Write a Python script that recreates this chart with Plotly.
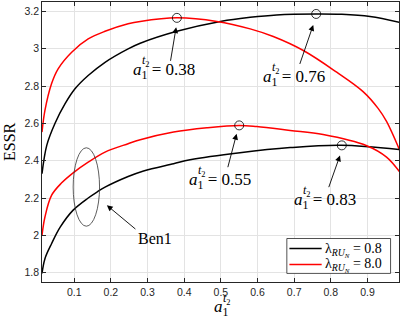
import plotly.graph_objects as go

# curves
x_black_hi = [0.012, 0.025, 0.047, 0.075, 0.102, 0.138, 0.184, 0.247, 0.28, 0.38, 0.502, 0.58, 0.652, 0.76, 0.83, 0.907, 0.988]
y_black_hi = [2.330, 2.482, 2.598, 2.705, 2.785, 2.856, 2.927, 2.999, 3.029, 3.093, 3.147, 3.168, 3.181, 3.186, 3.184, 3.172, 3.141]

x_red_hi = [0.012, 0.020, 0.038, 0.056, 0.093, 0.138, 0.184, 0.247, 0.28, 0.38, 0.489, 0.58, 0.643, 0.725, 0.816, 0.888, 0.929, 0.952, 0.988]
y_red_hi = [2.553, 2.669, 2.812, 2.892, 2.981, 3.052, 3.093, 3.133, 3.146, 3.165, 3.146, 3.106, 3.065, 2.990, 2.874, 2.770, 2.680, 2.610, 2.455]

x_black_lo = [0.012, 0.020, 0.038, 0.062, 0.097, 0.138, 0.162, 0.184, 0.247, 0.289, 0.371, 0.416, 0.552, 0.689, 0.828, 0.988]
y_black_lo = [1.796, 1.875, 1.955, 2.045, 2.135, 2.200, 2.232, 2.258, 2.315, 2.345, 2.384, 2.405, 2.443, 2.470, 2.482, 2.459]

x_red_lo = [0.012, 0.020, 0.038, 0.065, 0.097, 0.138, 0.184, 0.247, 0.28, 0.371, 0.462, 0.55, 0.598, 0.689, 0.779, 0.898, 0.952, 0.988]
y_red_lo = [2.000, 2.098, 2.214, 2.280, 2.335, 2.392, 2.446, 2.491, 2.512, 2.553, 2.576, 2.589, 2.583, 2.562, 2.540, 2.480, 2.419, 2.339]

legend_names = ['0.8', '8.0']

# optimum markers and their labels
peak_x = [0.38, 0.76, 0.55, 0.83]
peak_y = [3.165, 3.186, 2.589, 2.482]
peak_lbl = ['0.38', '0.76', '0.55', '0.83']
# arrow tails / heads and label left edge + middle
arrow_tail = [(0.362, 2.927), (0.714, 2.910), (0.518, 2.357), (0.793, 2.250)]
arrow_head = [(0.378, 3.115), (0.752, 3.127), (0.543, 2.544), (0.825, 2.428)]
label_pos = [(0.255, 2.880), (0.610, 2.843), (0.407, 2.292), (0.693, 2.182)]

SERIF = 'Liberation Serif'
AX = '#262626'

fig = go.Figure()
for xs, ys, col in [(x_black_hi, y_black_hi, 'black'), (x_red_hi, y_red_hi, 'red'),
                    (x_black_lo, y_black_lo, 'black'), (x_red_lo, y_red_lo, 'red')]:
    fig.add_trace(go.Scatter(x=xs, y=ys, mode='lines', showlegend=False,
                             line=dict(color=col, width=1.5, shape='spline')))
fig.add_trace(go.Scatter(x=peak_x, y=peak_y, mode='markers', showlegend=False,
                         marker=dict(symbol='circle-open', size=9, color='black', line=dict(width=0.8))))


def a1t2(x, y, tail, xref='x', yref='y', size=17, up=10):
    # a with subscript 1 and stacked superscript t2
    fig.add_annotation(x=x, y=y, xref=xref, yref=yref, xanchor='left', yanchor='middle', showarrow=False,
                       text='<i>a</i><sub>1</sub>' + tail, font=dict(family=SERIF, size=size, color='black'))
    fig.add_annotation(x=x, y=y, xref=xref, yref=yref, xanchor='left', yanchor='middle', showarrow=False,
                       xshift=9, yshift=up, text='<i>t</i><sub>2</sub>',
                       font=dict(family=SERIF, size=12, color='black'))


for (tx, ty), (hx, hy), (lx, ly), lbl in zip(arrow_tail, arrow_head, label_pos, peak_lbl):
    fig.add_annotation(x=hx, y=hy, ax=tx, ay=ty, axref='x', ayref='y', text='', showarrow=True,
                       arrowhead=2, arrowsize=1.3, arrowwidth=0.9, arrowcolor='black')
    a1t2(lx, ly, ' = ' + lbl)

# Ben1 ellipse and label
fig.add_shape(type='circle', x0=0.097, x1=0.169, y0=2.049, y1=2.469, line=dict(color='#333333', width=0.8))
fig.add_annotation(x=0.189, y=2.161, ax=0.271, ay=2.027, axref='x', ayref='y', text='', showarrow=True,
                   arrowhead=2, arrowsize=1.3, arrowwidth=0.9, arrowcolor='black')
fig.add_annotation(x=0.321, y=1.984, text='Ben1', showarrow=False, font=dict(family=SERIF, size=16, color='black'))

# legend drawn by hand (box, line samples, labels)
fig.add_shape(type='rect', x0=0.680, x1=0.963, y0=1.796, y1=1.983, fillcolor='white',
              line=dict(color=AX, width=0.8), layer='above')
for yy, col, nm in [(1.929, 'black', legend_names[0]), (1.844, 'red', legend_names[1])]:
    fig.add_shape(type='line', x0=0.687, x1=0.775, y0=yy, y1=yy, line=dict(color=col, width=1.5), layer='above')
    fig.add_annotation(x=0.779, y=yy, xanchor='left', yanchor='middle', showarrow=False, yshift=-1,
                       text='λ<sub><i>RU<sub>N</sub></i></sub> = ' + nm,
                       font=dict(family=SERIF, size=14, color='black'))

# axis titles
fig.add_annotation(x=-0.091, y=0.502, xref='paper', yref='paper', xanchor='center', yanchor='middle',
                   text='ESSR', textangle=-90, showarrow=False, font=dict(family=SERIF, size=16, color='black'))
a1t2(0.477, -0.094, '', xref='paper', yref='paper', up=9)

axis_style = dict(showline=True, linecolor=AX, linewidth=0.8, mirror='ticks', ticks='inside', ticklen=4,
                  tickcolor=AX, tickwidth=0.8, showgrid=True, gridcolor='#e3e3e3', gridwidth=0.8, zeroline=False,
                  tickfont=dict(family='Liberation Sans', size=10.5, color=AX))
fig.update_xaxes(range=[0.012, 0.986], tickvals=[0.1, 0.2, 0.3, 0.4, 0.5, 0.6, 0.7, 0.8, 0.9], **axis_style)
fig.update_yaxes(range=[1.75, 3.25], tickvals=[1.8, 2.0, 2.2, 2.4, 2.6, 2.8, 3.0, 3.2], **axis_style)

fig.update_layout(width=401, height=322, margin=dict(l=42, r=2, t=2, b=40),
                  plot_bgcolor='white', paper_bgcolor='white', showlegend=False)

fig.write_html("out.html", config={'displayModeBar': False},
               post_script="document.body.style.margin='0';")
